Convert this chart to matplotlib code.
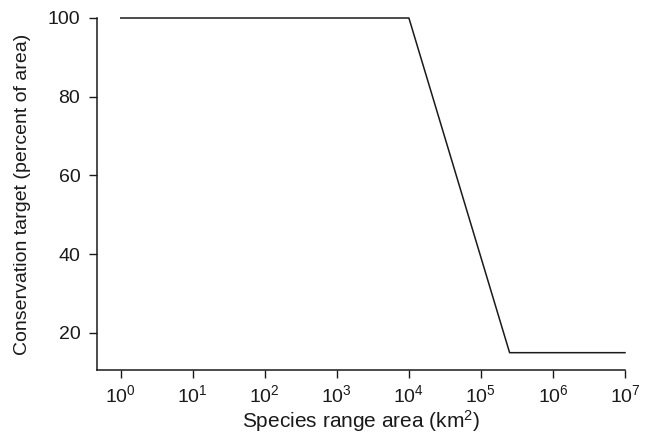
import matplotlib
matplotlib.use("Agg")
import matplotlib.pyplot as plt

# Data
range_area = [1e0, 1e4, 2.5e5, 1e7]
target_pct = [100, 100, 15, 15]
x_ticks = [1e0, 1e1, 1e2, 1e3, 1e4, 1e5, 1e6, 1e7]
x_tick_labels = [r"$10^{%d}$" % i for i in range(8)]
y_ticks = [20, 40, 60, 80, 100]

plt.rcParams['font.family'] = ['Liberation Sans', 'DejaVu Sans']
plt.rcParams['mathtext.fontset'] = 'custom'
plt.rcParams['mathtext.rm'] = 'Liberation Sans'
plt.rcParams['mathtext.it'] = 'Liberation Sans'
plt.rcParams['mathtext.default'] = 'regular'

fig = plt.figure(figsize=(6.47, 4.38), dpi=100)
ax = fig.add_axes([97/647, 1-370/438, (625-97)/647, (370-18)/438])

ax.plot(range_area, target_pct, color='#1a1a1a', lw=1.1, clip_on=False)
ax.set_xscale('log')
ax.set_xlim(10**-0.33, 1e7)
ax.set_ylim(10.6, 100)
ax.set_xticks(x_ticks)
ax.set_xticklabels(x_tick_labels)
ax.minorticks_off()
ax.set_yticks(y_ticks)

for s in ['top', 'right']:
    ax.spines[s].set_visible(False)
for s in ['left', 'bottom']:
    ax.spines[s].set_linewidth(1.1)
    ax.spines[s].set_color('#1a1a1a')

ax.tick_params(axis='both', labelsize=14, length=6, width=1.0, color='#1a1a1a', labelcolor='#1a1a1a')
ax.tick_params(axis='y', pad=6)
ax.tick_params(axis='x', pad=4)

ax.set_xlabel(r"Species range area (km$^2$)", fontsize=15, color='#1a1a1a', labelpad=2)
ax.set_ylabel("Conservation target (percent of area)", fontsize=14, color='#1a1a1a', labelpad=12)

fig.savefig("out.png", dpi=100)
